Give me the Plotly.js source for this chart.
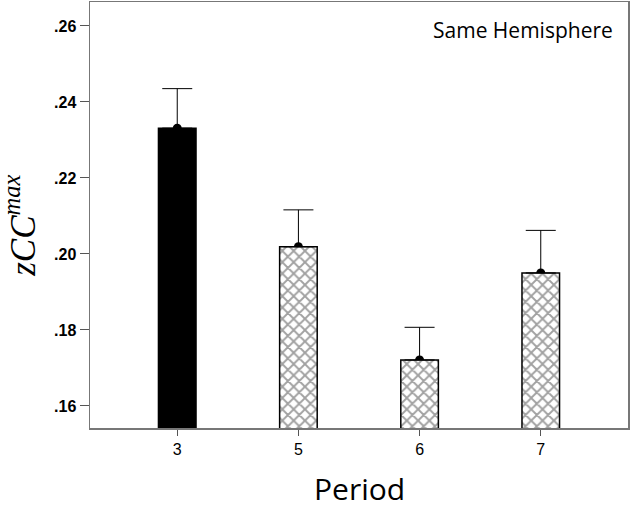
<!DOCTYPE html>
<html>
<head>
<meta charset="utf-8">
<script src="https://cdn.plot.ly/plotly-3.0.1.min.js"></script>
<style>
  html, body { margin: 0; padding: 0; background: #fff; }
  #plot { width: 630px; height: 507px; }
</style>
</head>
<body>
<div id="plot"></div>
<script>
const periods = ["3", "5", "6", "7"];
const means = [0.2331, 0.2019, 0.1721, 0.1950];
const upperErr = [0.2435, 0.2116, 0.1807, 0.2062];
const yTickVals = [0.16, 0.18, 0.20, 0.22, 0.24, 0.26];
const yTickText = [".16", ".18", ".20", ".22", ".24", ".26"];

const errPlus = means.map((m, i) => upperErr[i] - m);
const errMinus = means.map(() => 0);

const xRange = [-0.72, 3.72];
const yRange = [0.1542, 0.2663];

const traces = [
  {
    // dots at the mean, drawn under the bars so only the top half shows
    x: periods, y: means,
    type: "scatter", mode: "markers",
    marker: { color: "black", size: 9 },
    xaxis: "x", yaxis: "y",
    hoverinfo: "skip", showlegend: false
  },
  {
    x: periods, y: means,
    type: "bar", width: 0.31,
    marker: {
      color: ["black", "white", "white", "white"],
      line: { color: "black", width: 1.5 },
      pattern: {
        shape: ["", "x", "x", "x"],
        fillmode: "overlay",
        bgcolor: "white",
        fgcolor: "black",
        size: 8,
        solidity: 0.42
      }
    },
    error_y: {
      type: "data", symmetric: false,
      array: errPlus, arrayminus: errMinus,
      color: "black", thickness: 1, width: 15
    },
    xaxis: "x2", yaxis: "y2",
    showlegend: false
  }
];

const layout = {
  width: 630, height: 507,
  margin: { l: 90, r: 2, t: 2, b: 79 },
  paper_bgcolor: "white", plot_bgcolor: "white",
  font: { family: "Liberation Sans, Arial, sans-serif", color: "black" },
  xaxis: {
    type: "category", range: xRange,
    showline: true, linecolor: "#777", linewidth: 1.5, mirror: true,
    ticks: "outside", ticklen: 6, tickcolor: "#555",
    showgrid: false, zeroline: false,
    tickfont: { size: 16, family: "Liberation Sans, Arial, sans-serif" },
    title: { text: "" }
  },
  yaxis: {
    range: yRange,
    tickvals: yTickVals, ticktext: yTickText,
    showline: true, linecolor: "#777", linewidth: 1.5, mirror: true,
    ticks: "outside", ticklen: 9, tickcolor: "#555",
    showgrid: false, zeroline: false,
    tickfont: { size: 16, family: "Liberation Sans, Arial, sans-serif", weight: "bold" },
    title: { text: "" }
  },
  xaxis2: { type: "category", range: xRange, overlaying: "x", visible: false },
  yaxis2: { range: yRange, overlaying: "y", visible: false },
  annotations: [
    {
      text: "Same Hemisphere",
      xref: "paper", yref: "paper", x: 0.975, y: 0.935,
      xanchor: "right", yanchor: "middle", showarrow: false,
      font: { size: 21, family: "Open Sans, sans-serif" }
    },
    {
      text: "Period",
      xref: "paper", yref: "paper", x: 0.5, y: -0.143,
      xanchor: "center", yanchor: "middle", showarrow: false,
      font: { size: 30, family: "Open Sans, sans-serif" }
    },
    {
      text: "<i>zCC</i><sup><i>max</i></sup>",
      xref: "paper", yref: "paper", x: -0.128, y: 0.475,
      xanchor: "center", yanchor: "middle", showarrow: false,
      textangle: -90,
      font: { size: 35, family: "Liberation Serif, DejaVu Serif, serif" }
    }
  ]
};

Plotly.newPlot("plot", traces, layout, { displayModeBar: false, staticPlot: true });
</script>
</body>
</html>
